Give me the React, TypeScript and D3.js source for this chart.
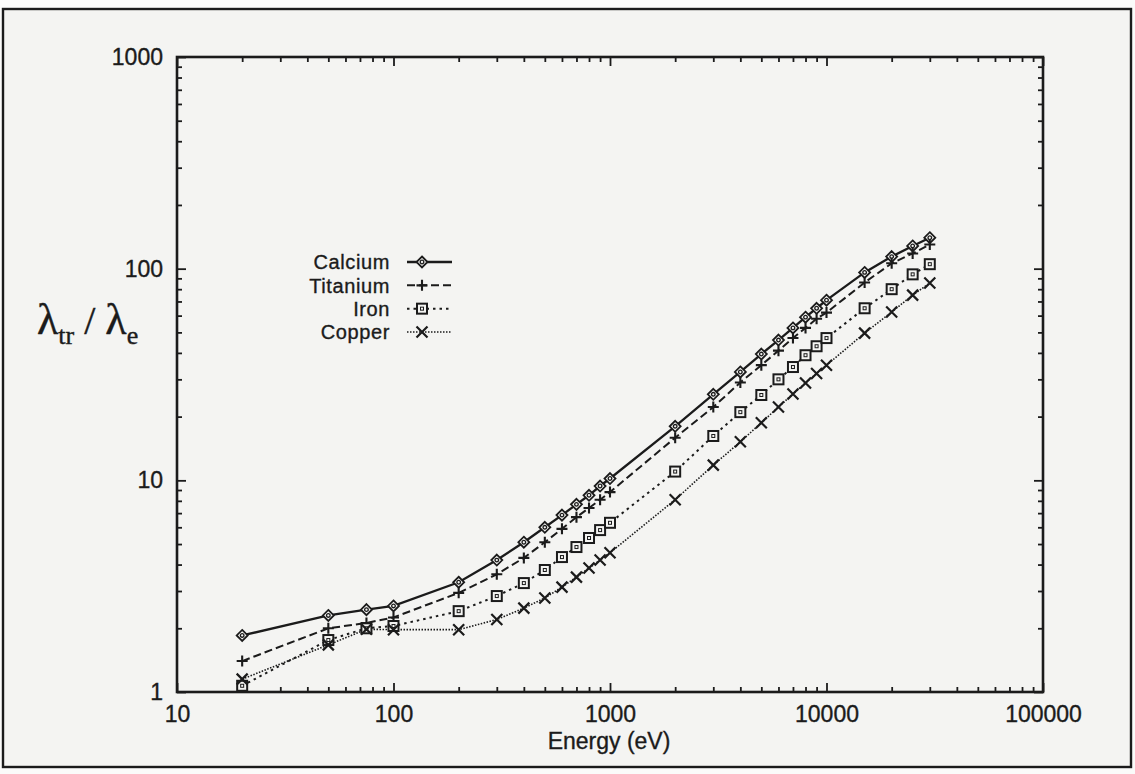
import React, { useRef, useEffect } from 'react';
import * as d3 from 'd3';

const energies = [20, 50, 75, 100, 200, 300, 400, 500, 600, 700, 800, 900, 1000, 2000, 3000, 4000, 5000, 6000, 7000, 8000, 9000, 10000, 15000, 20000, 25000, 30000];
const calcium = [1.85, 2.3, 2.45, 2.55, 3.3, 4.2, 5.1, 6.0, 6.85, 7.7, 8.5, 9.4, 10.2, 18.0, 25.5, 32.5, 39.5, 46, 52.5, 59, 65, 71, 96, 114, 128, 140];
const titanium = [1.4, 2.0, 2.12, 2.25, 2.94, 3.6, 4.3, 5.1, 5.9, 6.7, 7.4, 8.1, 8.8, 15.9, 22.2, 29, 35, 41, 47, 52.5, 58, 62, 86, 106, 118, 130];
const iron = [1.07, 1.76, 2.0, 2.05, 2.41, 2.84, 3.27, 3.77, 4.34, 4.84, 5.34, 5.82, 6.3, 11.0, 16.2, 21, 25.3, 30, 34.3, 39, 43, 47, 65, 80, 94, 105];
const copper = [1.15, 1.67, 1.98, 1.97, 1.97, 2.2, 2.49, 2.78, 3.13, 3.49, 3.85, 4.2, 4.55, 8.1, 11.8, 15.2, 18.7, 22.2, 25.6, 28.8, 32, 35, 49.6, 62.4, 75, 85.5];
const seriesNames = ['Calcium', 'Titanium', 'Iron', 'Copper'];
const xTickLabels = ['10', '100', '1000', '10000', '100000'];
const yTickLabels = ['1', '10', '100', '1000'];

const INK = '#1b1b1b';
const SANS = '"Liberation Sans", Arial, Helvetica, sans-serif';

const App = () => {
    const chart = useRef<SVGSVGElement>(null);

    useEffect(() => {
        const width = 1135;
        const height = 774;
        const plot = { left: 177, right: 1043, top: 57, bottom: 692 };

        const svg = d3.select(chart.current);
        svg.selectAll('*').remove();
        svg.attr('width', width).attr('height', height);

        svg.append('rect')
            .attr('width', width).attr('height', height)
            .attr('fill', '#fbfbfa');
        svg.append('rect')
            .attr('x', 3).attr('y', 9).attr('width', 1128).attr('height', 758)
            .attr('fill', '#f4f4f2').attr('stroke', INK).attr('stroke-width', 2.4);

        const xMajor = xTickLabels.map(Number);
        const yMajor = yTickLabels.map(Number);

        const xScale = d3.scaleLog()
            .domain([xMajor[0], xMajor[xMajor.length - 1]])
            .range([plot.left, plot.right]);
        const yScale = d3.scaleLog()
            .domain([yMajor[0], yMajor[yMajor.length - 1]])
            .range([plot.bottom, plot.top]);

        const minors = (major: number[]) => {
            const out: number[] = [];
            major.slice(0, -1).forEach(m => { for (let k = 2; k <= 9; k++) out.push(m * k); });
            return out;
        };

        const labelStyle = (sel: any, size = 23) => sel
            .style('font-family', SANS).style('font-size', `${size}px`).style('fill', INK)
            .style('stroke', INK).style('stroke-width', 0.35);

        // bottom + top ticks (inward), labels only at bottom
        svg.append('g')
            .attr('transform', `translate(0,${plot.bottom})`)
            .call(d3.axisBottom(xScale).tickValues(xMajor).tickSize(-9).tickPadding(14).tickFormat((d, i) => xTickLabels[i]))
            .call(g => g.select('.domain').remove())
            .selectAll('text')
            .call(labelStyle);
        svg.append('g')
            .attr('transform', `translate(0,${plot.bottom})`)
            .call(d3.axisBottom(xScale).tickValues(minors(xMajor)).tickSize(-5).tickFormat(() => ''))
            .call(g => g.select('.domain').remove());
        svg.append('g')
            .attr('transform', `translate(0,${plot.top})`)
            .call(d3.axisTop(xScale).tickValues(xMajor).tickSize(-9).tickFormat(() => ''))
            .call(g => g.select('.domain').remove());
        svg.append('g')
            .attr('transform', `translate(0,${plot.top})`)
            .call(d3.axisTop(xScale).tickValues(minors(xMajor)).tickSize(-5).tickFormat(() => ''))
            .call(g => g.select('.domain').remove());

        // left + right ticks
        svg.append('g')
            .attr('transform', `translate(${plot.left},0)`)
            .call(d3.axisLeft(yScale).tickValues(yMajor).tickSize(-9).tickPadding(14).tickFormat((d, i) => yTickLabels[i]))
            .call(g => g.select('.domain').remove())
            .selectAll('text')
            .call(labelStyle);
        svg.append('g')
            .attr('transform', `translate(${plot.left},0)`)
            .call(d3.axisLeft(yScale).tickValues(minors(yMajor)).tickSize(-5).tickFormat(() => ''))
            .call(g => g.select('.domain').remove());
        svg.append('g')
            .attr('transform', `translate(${plot.right},0)`)
            .call(d3.axisRight(yScale).tickValues(yMajor).tickSize(-9).tickFormat(() => ''))
            .call(g => g.select('.domain').remove());
        svg.append('g')
            .attr('transform', `translate(${plot.right},0)`)
            .call(d3.axisRight(yScale).tickValues(minors(yMajor)).tickSize(-5).tickFormat(() => ''))
            .call(g => g.select('.domain').remove());

        svg.selectAll('.tick line').attr('stroke', INK).attr('stroke-width', 1.8);

        svg.append('rect')
            .attr('x', plot.left).attr('y', plot.top)
            .attr('width', plot.right - plot.left).attr('height', plot.bottom - plot.top)
            .attr('fill', 'none').attr('stroke', INK).attr('stroke-width', 2.6);

        // axis titles
        svg.append('text')
            .attr('x', (plot.left + plot.right) / 2 - 1).attr('y', 749)
            .attr('text-anchor', 'middle')
            .call(labelStyle)
            .text('Energy (eV)');

        const yTitle = svg.append('text')
            .attr('x', 37).attr('y', 334)
            .style('font-family', '"Liberation Serif", "Times New Roman", serif').style('fill', INK)
            .style('stroke', INK).style('stroke-width', 0.4);
        yTitle.append('tspan').style('font-size', '44px').text('λ');
        yTitle.append('tspan').style('font-size', '26px').attr('dy', 10).text('tr');
        yTitle.append('tspan').style('font-size', '40px').attr('dy', -10).text(' / ');
        yTitle.append('tspan').style('font-size', '44px').text('λ');
        yTitle.append('tspan').style('font-size', '26px').attr('dy', 10).text('e');

        // series
        const values = [calcium, titanium, iron, copper];
        const dashes = [null, '8,4', '2.5,4', '1.5,1.5'];
        const widths = [2.3, 2, 2, 1.6];

        const line = d3.line<number>()
            .x((d, i) => xScale(energies[i]))
            .y(d => yScale(d));

        const marker = (g: any, type: number) => {
            if (type === 0) {
                g.append('path').attr('d', 'M0,-5.5L5.5,0L0,5.5L-5.5,0Z')
                    .attr('fill', '#f4f4f2').attr('stroke', INK).attr('stroke-width', 1.8);
                g.append('circle').attr('r', 1.8).attr('fill', 'none').attr('stroke', INK).attr('stroke-width', 1.3);
            } else if (type === 1) {
                g.append('path').attr('d', 'M-5.5,0H5.5M0,-5.5V5.5')
                    .attr('stroke', INK).attr('stroke-width', 2.1);
            } else if (type === 2) {
                g.append('rect').attr('x', -5).attr('y', -5).attr('width', 10).attr('height', 10)
                    .attr('fill', '#f4f4f2').attr('stroke', INK).attr('stroke-width', 2);
                g.append('rect').attr('x', -1.5).attr('y', -1.5).attr('width', 3).attr('height', 3)
                    .attr('fill', 'none').attr('stroke', INK).attr('stroke-width', 1);
            } else {
                g.append('path').attr('d', 'M-5.5,-5.5L5.5,5.5M-5.5,5.5L5.5,-5.5')
                    .attr('stroke', INK).attr('stroke-width', 2.2);
            }
        };

        values.forEach((vals, s) => {
            svg.append('path')
                .datum(vals)
                .attr('fill', 'none')
                .attr('stroke', INK)
                .attr('stroke-width', widths[s])
                .attr('stroke-dasharray', dashes[s])
                .attr('d', line);
        });
        values.forEach((vals, s) => {
            vals.forEach((v, i) => {
                const g = svg.append('g').attr('transform', `translate(${xScale(energies[i])},${yScale(v)})`);
                marker(g, s);
            });
        });

        // legend
        const legendY = d3.scalePoint<string>().domain(seriesNames).range([262, 332]);
        seriesNames.forEach((name, s) => {
            const y = legendY(name) as number;
            svg.append('text')
                .attr('x', 390).attr('y', y).attr('dy', '0.36em')
                .attr('text-anchor', 'end')
                .call(labelStyle, 20)
                .style('letter-spacing', '0.6px')
                .text(name);
            svg.append('line')
                .attr('x1', 407).attr('x2', 452).attr('y1', y).attr('y2', y)
                .attr('stroke', INK).attr('stroke-width', widths[s])
                .attr('stroke-dasharray', dashes[s]);
            marker(svg.append('g').attr('transform', `translate(422,${y})`), s);
        });
    }, []);

    return (
        <svg ref={chart} style={{ position: 'absolute', left: 0, top: 0 }}></svg>
    );
};

export default App;
